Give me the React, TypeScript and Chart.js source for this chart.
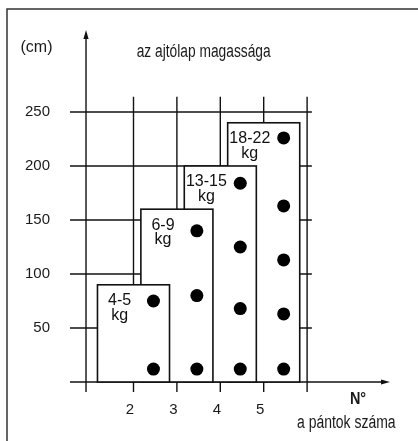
import React, { useEffect, useRef } from "react";
import { Chart, registerables } from "chart.js";

Chart.register(...registerables);

// ---- data ----
const hingeCounts = [2, 3, 4, 5];
const weightLabels = ["4-5", "6-9", "13-15", "18-22"];
const unitLabel = "kg";
const doorHeights = [90, 160, 200, 240];
const hingePositions = [
  [12, 75],
  [12, 80, 140],
  [12, 68, 125, 184],
  [12, 63, 113, 163, 226],
];
const yTicks = [50, 100, 150, 200, 250];
const xTicks = [2, 3, 4, 5];
const xGridLines = [2, 3, 4, 5, 6];
const yTitle = "(cm)";
const chartTitle = "az ajtólap magassága";
const xSymbol = "N°";
const xTitle = "a pántok száma";

// ---- layout constants ----
const X_MIN = 0.537;
const X_MAX = 7.91;
const Y_MIN = -9.26;
const Y_MAX = 325.9;
const Y_AXIS_AT = 0.906;
const GRID_X_END = 6.11;
const GRID_Y_TOP = 264;
const BOX_HALF = 0.83;
const DOT_OFFSET = 0.46;
const LABEL_OFFSET = -0.32;

const SANS = '"Liberation Sans", Arial, sans-serif';
const INK = "#111";

function condensedText(
  ctx: CanvasRenderingContext2D,
  text: string,
  x: number,
  y: number,
  font: string,
  squeeze: number,
  align: CanvasTextAlign,
  baseline: CanvasTextBaseline
) {
  ctx.save();
  ctx.font = font;
  ctx.textAlign = align;
  ctx.textBaseline = baseline;
  ctx.translate(x, y);
  ctx.scale(squeeze, 1);
  ctx.fillText(text, 0, 0);
  ctx.restore();
}

const diagramPlugin = {
  id: "diagram",
  beforeDatasetsDraw(chart: any) {
    const ctx = chart.ctx as CanvasRenderingContext2D;
    const xs = chart.scales.x;
    const ys = chart.scales.y;
    const X = (v: number) => xs.getPixelForValue(v);
    const Y = (v: number) => ys.getPixelForValue(v);
    ctx.save();
    // frame (top + left)
    ctx.strokeStyle = "#333";
    ctx.lineWidth = 1.5;
    ctx.beginPath();
    ctx.moveTo(7, 441);
    ctx.lineTo(7, 9);
    ctx.lineTo(418, 9);
    ctx.stroke();

    ctx.strokeStyle = INK;
    ctx.lineWidth = 1.4;
    // horizontal grid
    for (const v of yTicks) {
      ctx.beginPath();
      ctx.moveTo(X(X_MIN), Y(v));
      ctx.lineTo(X(GRID_X_END), Y(v));
      ctx.stroke();
    }
    // vertical grid
    for (const v of xGridLines) {
      ctx.beginPath();
      ctx.moveTo(X(v), Y(Y_MIN));
      ctx.lineTo(X(v), Y(GRID_Y_TOP));
      ctx.stroke();
    }
    // y axis
    ctx.beginPath();
    ctx.moveTo(X(Y_AXIS_AT), Y(Y_MIN));
    ctx.lineTo(X(Y_AXIS_AT), Y(Y_MAX) + 6);
    ctx.stroke();
    ctx.fillStyle = INK;
    ctx.beginPath();
    ctx.moveTo(X(Y_AXIS_AT), Y(Y_MAX));
    ctx.lineTo(X(Y_AXIS_AT) - 2.6, Y(Y_MAX) + 9);
    ctx.lineTo(X(Y_AXIS_AT) + 2.6, Y(Y_MAX) + 9);
    ctx.closePath();
    ctx.fill();
    // x axis
    ctx.beginPath();
    ctx.moveTo(X(X_MIN), Y(0));
    ctx.lineTo(X(X_MAX) - 6, Y(0));
    ctx.stroke();
    ctx.beginPath();
    ctx.moveTo(X(X_MAX), Y(0));
    ctx.lineTo(X(X_MAX) - 9, Y(0) - 2.6);
    ctx.lineTo(X(X_MAX) - 9, Y(0) + 2.6);
    ctx.closePath();
    ctx.fill();

    // boxes, tallest first
    ctx.lineWidth = 1.6;
    for (let i = hingeCounts.length - 1; i >= 0; i--) {
      const n = hingeCounts[i];
      const x0 = X(n - BOX_HALF);
      const x1 = X(n + BOX_HALF);
      const y0 = Y(doorHeights[i]);
      const y1 = Y(0);
      ctx.fillStyle = "#fff";
      ctx.fillRect(x0, y0, x1 - x0, y1 - y0);
      ctx.strokeRect(x0, y0, x1 - x0, y1 - y0);
    }
    ctx.restore();
  },
  afterDatasetsDraw(chart: any) {
    const ctx = chart.ctx as CanvasRenderingContext2D;
    const xs = chart.scales.x;
    const ys = chart.scales.y;
    const X = (v: number) => xs.getPixelForValue(v);
    const Y = (v: number) => ys.getPixelForValue(v);
    ctx.save();
    ctx.fillStyle = "#1a1a1a";
    // y title
    ctx.font = `16px ${SANS}`;
    ctx.textAlign = "center";
    ctx.textBaseline = "middle";
    ctx.fillText(yTitle, 36.5, 48);
    // chart title (condensed)
    condensedText(ctx, chartTitle, 136.7, 57, `18px ${SANS}`, 0.765, "left", "alphabetic");
    // y ticks
    ctx.font = `15px ${SANS}`;
    ctx.textAlign = "right";
    ctx.textBaseline = "middle";
    for (const v of yTicks) ctx.fillText(String(v), 50, Y(v));
    // x ticks
    ctx.textAlign = "center";
    for (const v of xTicks) ctx.fillText(String(v), X(v) - 3.5, 410);
    // x symbol and title
    condensedText(ctx, xSymbol, 358, 399, `bold 17px ${SANS}`, 0.85, "center", "middle");
    condensedText(ctx, xTitle, 346.3, 428, `18px ${SANS}`, 0.775, "center", "alphabetic");
    // box labels
    ctx.fillStyle = "#111";
    ctx.font = `16px ${SANS}`;
    ctx.textAlign = "center";
    ctx.textBaseline = "middle";
    hingeCounts.forEach((n, i) => {
      const cx = X(n + LABEL_OFFSET);
      const ty = Y(doorHeights[i]) + 16;
      ctx.fillText(weightLabels[i], cx, ty);
      ctx.fillText(unitLabel, cx, ty + 14.5);
    });
    ctx.restore();
  },
};

export default function App() {
  const canvasRef = useRef<HTMLCanvasElement | null>(null);

  useEffect(() => {
    if (!canvasRef.current) return;
    const dots = hingeCounts.flatMap((n, i) =>
      hingePositions[i].map((y) => ({ x: n + DOT_OFFSET, y }))
    );
    const chart = new Chart(canvasRef.current, {
      type: "scatter",
      data: {
        datasets: [
          {
            data: dots,
            pointRadius: 6.5,
            pointHoverRadius: 6.5,
            backgroundColor: "#000",
            borderWidth: 0,
          },
        ],
      },
      options: {
        responsive: false,
        animation: false,
        layout: { padding: { left: 70, right: 28, top: 30, bottom: 49 } },
        scales: {
          x: { type: "linear", min: X_MIN, max: X_MAX, display: false },
          y: { type: "linear", min: Y_MIN, max: Y_MAX, display: false },
        },
        plugins: {
          legend: { display: false },
          tooltip: { enabled: false },
        },
        events: [],
      },
      plugins: [diagramPlugin],
    });
    return () => chart.destroy();
  }, []);

  return (
    <div style={{ position: "absolute", left: 0, top: 0, width: 418, height: 441, background: "#fff" }}>
      <canvas ref={canvasRef} width={418} height={441} style={{ display: "block" }} />
    </div>
  );
}
